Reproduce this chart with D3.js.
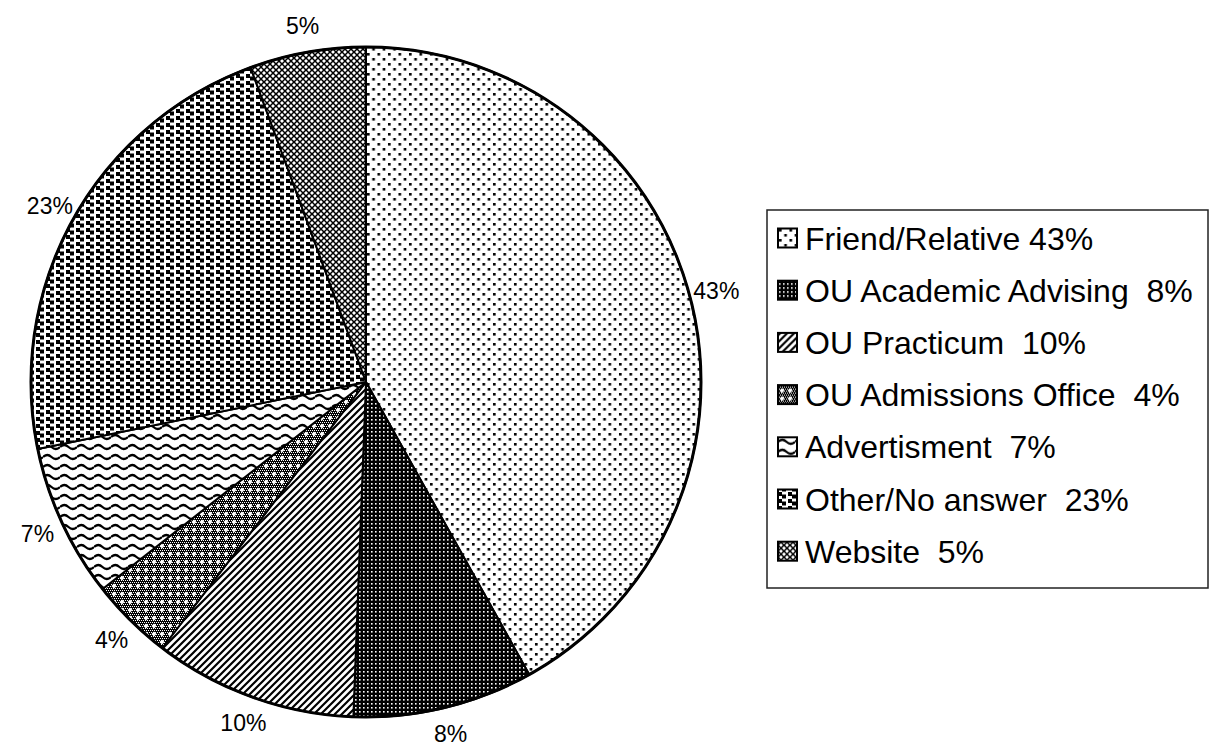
<!DOCTYPE html>
<html lang="en"><head><meta http-equiv="Content-Type" content="text/html; charset=UTF-8">
<script src="https://d3js.org/d3.v7.min.js"></script>
<style>
  body { margin: 0; background: #fff; }
  #piechart { position: absolute; left: 0; top: 0; }
  text { font-family: "Liberation Sans", Arial, sans-serif; fill: #000; }
</style>
</head>
<body>
<div id="piechart"></div>
<script>
// slice sizes (clockwise from 12 o'clock)
const categories = ["Friend/Relative", "OU Academic Advising", "OU Practicum", "OU Admissions Office", "Advertisment", "Other/No answer", "Website"];
const values = [41.9, 8.7, 9.8, 4.0, 7.4, 22.6, 5.6];
const sliceLabels = ["43%", "8%", "10%", "4%", "7%", "23%", "5%"];
const legendLabels = ["Friend/Relative 43%", "OU Academic Advising  8%", "OU Practicum  10%", "OU Admissions Office  4%", "Advertisment  7%", "Other/No answer  23%", "Website  5%"];
const patternIds = ["pDots", "pDense", "pDiag", "pCheck", "pWave", "pBlocks", "pCross"];

function drawPie() {
  const width = 1219, height = 751;
  const cx = 366, cy = 382, radius = 335, labelRadius = 362;

  const svg = d3.select("#piechart")
    .append("svg")
    .attr("width", width)
    .attr("height", height)
    .attr("viewBox", [0, 0, width, height]);

  const defs = svg.append("defs");

  // sparse staggered dots
  let p = defs.append("pattern").attr("id", "pDots").attr("patternUnits", "userSpaceOnUse")
    .attr("width", 10.5).attr("height", 10);
  p.append("rect").attr("width", 10.5).attr("height", 10).attr("fill", "#fff");
  p.append("rect").attr("x", 1).attr("y", 1).attr("width", 2.6).attr("height", 2.6).attr("fill", "#000");
  p.append("rect").attr("x", 6.25).attr("y", 6).attr("width", 2.6).attr("height", 2.6).attr("fill", "#000");

  // black with small white dots
  p = defs.append("pattern").attr("id", "pDense").attr("patternUnits", "userSpaceOnUse")
    .attr("width", 4).attr("height", 4);
  p.append("rect").attr("width", 4).attr("height", 4).attr("fill", "#000");
  p.append("rect").attr("x", 1).attr("y", 1).attr("width", 1.6).attr("height", 1.6).attr("fill", "#fff");

  // diagonal "/" lines
  p = defs.append("pattern").attr("id", "pDiag").attr("patternUnits", "userSpaceOnUse")
    .attr("width", 7).attr("height", 7);
  p.append("rect").attr("width", 7).attr("height", 7).attr("fill", "#fff");
  p.append("path").attr("d", "M-1,8 L8,-1 M-4,4 L4,-4 M3,11 L11,3")
    .attr("stroke", "#000").attr("stroke-width", 2.2);

  // fine checker with white diamonds
  p = defs.append("pattern").attr("id", "pCheck").attr("patternUnits", "userSpaceOnUse")
    .attr("width", 8).attr("height", 8);
  p.append("rect").attr("width", 8).attr("height", 8).attr("fill", "#000");
  for (let i = 0; i < 8; i += 2) for (let j = 0; j < 8; j += 2)
    p.append("rect").attr("x", i + ((j / 2) % 2)).attr("y", j).attr("width", 1).attr("height", 1).attr("fill", "#fff");
  p.append("path").attr("d", "M4,1.5 L6.5,4 L4,6.5 L1.5,4 Z").attr("fill", "#fff");

  // wavy lines
  p = defs.append("pattern").attr("id", "pWave").attr("patternUnits", "userSpaceOnUse")
    .attr("width", 17).attr("height", 10);
  p.append("rect").attr("width", 17).attr("height", 10).attr("fill", "#fff");
  p.append("path").attr("d", "M0,5 Q4.25,1 8.5,5 T17,5")
    .attr("fill", "none").attr("stroke", "#000").attr("stroke-width", 2.2);

  // bold square blocks in steps
  p = defs.append("pattern").attr("id", "pBlocks").attr("patternUnits", "userSpaceOnUse")
    .attr("width", 10).attr("height", 7);
  p.append("rect").attr("width", 10).attr("height", 7).attr("fill", "#fff");
  p.append("rect").attr("x", 0).attr("y", 0).attr("width", 4).attr("height", 4).attr("fill", "#000");
  p.append("rect").attr("x", 4).attr("y", 2.5).attr("width", 4).attr("height", 4).attr("fill", "#000");

  // diagonal crosshatch
  p = defs.append("pattern").attr("id", "pCross").attr("patternUnits", "userSpaceOnUse")
    .attr("width", 6).attr("height", 6);
  p.append("rect").attr("width", 6).attr("height", 6).attr("fill", "#fff");
  p.append("path").attr("d", "M-1,-1 L7,7 M-1,7 L7,-1")
    .attr("stroke", "#000").attr("stroke-width", 1.5);

  const data = categories.map((c, i) => ({ name: c, value: values[i], i: i }));

  const pie = d3.pie().sort(null).value(d => d.value);
  const arcs = pie(data);
  const arc = d3.arc().innerRadius(0).outerRadius(radius);
  const labelArc = d3.arc().innerRadius(labelRadius).outerRadius(labelRadius);

  const g = svg.append("g").attr("transform", `translate(${cx},${cy})`);

  g.selectAll("path.slice")
    .data(arcs)
    .join("path")
    .attr("class", "slice")
    .attr("d", arc)
    .attr("fill", d => `url(#${patternIds[d.data.i]})`)
    .attr("stroke", "#000")
    .attr("stroke-width", 2)
    .attr("stroke-linejoin", "round");

  g.append("circle").attr("r", radius).attr("fill", "none")
    .attr("stroke", "#000").attr("stroke-width", 3);

  g.selectAll("text.pct")
    .data(arcs)
    .join("text")
    .attr("class", "pct")
    .attr("transform", d => `translate(${labelArc.centroid(d)})`)
    .attr("text-anchor", "middle")
    .attr("dy", "0.35em")
    .style("font-size", "23px")
    .text(d => sliceLabels[d.data.i]);

  // legend
  const lx = 767, ly = 210, lw = 441, lh = 378, rowH = 52.2, firstRow = 238;
  const legend = svg.append("g");
  legend.append("rect").attr("x", lx).attr("y", ly).attr("width", lw).attr("height", lh)
    .attr("fill", "#fff").attr("stroke", "#222").attr("stroke-width", 1.5);

  const rows = legend.selectAll("g.row")
    .data(data)
    .join("g")
    .attr("class", "row")
    .attr("transform", d => `translate(${lx + 11},${firstRow + d.i * rowH})`);

  rows.append("rect")
    .attr("x", 0).attr("y", -9.5).attr("width", 19).attr("height", 19)
    .attr("fill", d => `url(#${patternIds[d.i]})`)
    .attr("stroke", "#000").attr("stroke-width", 2);

  rows.append("text")
    .attr("x", 27)
    .attr("dy", "0.36em")
    .style("font-size", "32px")
    .style("white-space", "pre")
    .text(d => legendLabels[d.i]);
}

drawPie();
</script>
</body>
</html>
